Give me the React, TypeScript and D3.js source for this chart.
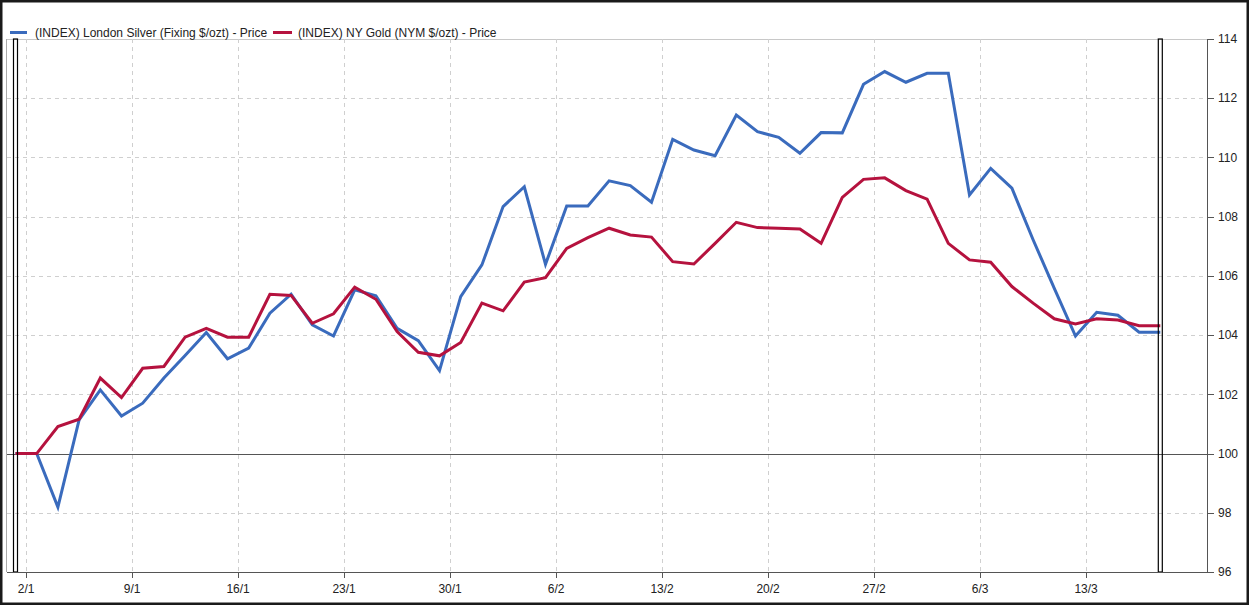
import React from "react";
import * as d3 from "d3";

const dates: string[] = [
  "30/12", "2/1", "3/1", "4/1", "5/1", "6/1", "9/1", "10/1", "11/1", "12/1", "13/1",
  "16/1", "17/1", "18/1", "19/1", "20/1", "23/1", "24/1", "25/1", "26/1", "27/1",
  "30/1", "31/1", "1/2", "2/2", "3/2", "6/2", "7/2", "8/2", "9/2", "10/2",
  "13/2", "14/2", "15/2", "16/2", "17/2", "20/2", "21/2", "22/2", "23/2", "24/2",
  "27/2", "28/2", "1/3", "2/3", "3/3", "6/3", "7/3", "8/3", "9/3", "10/3",
  "13/3", "14/3", "15/3", "16/3",
];

const silver: number[] = [
  100, 100, 98.19, 101.14, 102.15, 101.27, 101.7, 102.55, 103.31, 104.09, 103.2,
  103.56, 104.74, 105.38, 104.35, 103.97, 105.53, 105.33, 104.23, 103.81, 102.8,
  105.3, 106.37, 108.34, 109.01, 106.39, 108.36, 108.36, 109.21, 109.05, 108.49,
  110.61, 110.25, 110.06, 111.43, 110.87, 110.68, 110.14, 110.84, 110.83, 112.47,
  112.9, 112.54, 112.84, 112.84, 108.73, 109.63, 108.96, 107.22, 105.58, 103.97,
  104.77, 104.67, 104.1, 104.1,
];

const gold: number[] = [
  100, 100, 100.91, 101.16, 102.55, 101.89, 102.88, 102.94, 103.93, 104.23, 103.93,
  103.93, 105.38, 105.34, 104.4, 104.72, 105.62, 105.21, 104.12, 103.42, 103.3,
  103.75, 105.08, 104.82, 105.79, 105.94, 106.93, 107.29, 107.61, 107.38, 107.31,
  106.48, 106.4, 107.1, 107.81, 107.63, 107.61, 107.58, 107.1, 108.65, 109.26,
  109.31, 108.88, 108.59, 107.1, 106.54, 106.46, 105.64, 105.08, 104.55, 104.38,
  104.55, 104.51, 104.32, 104.32,
];

const tickLabels: string[] = ["2/1", "9/1", "16/1", "23/1", "30/1", "6/2", "13/2", "20/2", "27/2", "6/3", "13/3"];
const yTicks: number[] = [96, 98, 100, 102, 104, 106, 108, 110, 112, 114];

const seriesNames: string[] = [
  "(INDEX) London Silver (Fixing $/ozt) - Price",
  "(INDEX) NY Gold (NYM $/ozt) - Price",
];
const seriesColors: string[] = ["#3a6bbd", "#b5123e"];

const W = 1249;
const H = 605;
const plotLeft = 7;
const plotRight = 1207;
const plotTop = 39;
const plotBottom = 572;
const font = "Arial, 'Liberation Sans', sans-serif";

export default function App() {
  const x = d3.scaleLinear().domain([0, dates.length - 1]).range([15.5, 1160.3]);
  const y = d3.scaleLinear().domain([96, 114]).range([plotBottom, plotTop]);

  const tickIdx = tickLabels.map((lab) => dates.indexOf(lab) - 0.5);

  const line = d3
    .line<number>()
    .x((_, i) => x(i))
    .y((v) => y(v))
    .curve(d3.curveLinear);

  const series = [silver, gold];

  return (
    <svg
      width={W}
      height={H}
      style={{ position: "absolute", left: 0, top: 0, background: "#fff" }}
    >
      <rect x={0} y={0} width={W} height={H} fill="#fff" />
      {/* horizontal grid */}
      {yTicks.map((t) => (
        <line
          key={"hg" + t}
          x1={plotLeft}
          x2={plotRight}
          y1={Math.round(y(t)) + 0.5}
          y2={Math.round(y(t)) + 0.5}
          stroke={t === 114 ? "#c8c8c8" : "#cfcfcf"}
          strokeDasharray={t === 114 || t === 96 ? undefined : "4,4"}
        />
      ))}
      {/* vertical grid */}
      {tickIdx.map((ti, k) => (
        <line
          key={"vg" + k}
          x1={Math.round(x(ti)) + 0.5}
          x2={Math.round(x(ti)) + 0.5}
          y1={plotTop}
          y2={plotBottom}
          stroke="#cfcfcf"
          strokeDasharray="4,4"
        />
      ))}
      {/* left plot border */}
      <line x1={plotLeft - 0.5} x2={plotLeft - 0.5} y1={plotTop} y2={plotBottom} stroke="#aaa" />
      {/* 100 reference line */}
      <line
        x1={plotLeft}
        x2={plotRight + 7}
        y1={Math.round(y(100)) + 0.5}
        y2={Math.round(y(100)) + 0.5}
        stroke="#555"
        strokeWidth={1}
      />
      {/* lines */}
      {series.map((s, k) => (
        <path
          key={"s" + k}
          d={line(s) || ""}
          fill="none"
          stroke={seriesColors[k]}
          strokeWidth={3}
          strokeLinejoin="miter"
        />
      ))}
      {/* range markers */}
      {[0, dates.length - 1].map((i) => (
        <rect
          key={"rm" + i}
          x={x(i) - 2}
          y={plotTop}
          width={4}
          height={plotBottom - plotTop}
          fill="none"
          stroke="#000"
          strokeWidth={1.2}
        />
      ))}
      {/* x axis */}
      <line x1={plotLeft} x2={plotRight} y1={plotBottom + 0.5} y2={plotBottom + 0.5} stroke="#555" />
      {tickIdx.map((ti, k) => (
        <g key={"xt" + k}>
          <line
            x1={Math.round(x(ti)) + 0.5}
            x2={Math.round(x(ti)) + 0.5}
            y1={plotBottom}
            y2={plotBottom + 6}
            stroke="#555"
          />
          <text
            x={x(ti)}
            y={593}
            textAnchor="middle"
            fontFamily={font}
            fontSize={12}
            fill="#222"
          >
            {tickLabels[k]}
          </text>
        </g>
      ))}
      {/* y axis right */}
      <line x1={plotRight + 0.5} x2={plotRight + 0.5} y1={plotTop} y2={plotBottom} stroke="#555" />
      {yTicks.map((t) => (
        <g key={"yt" + t}>
          <line
            x1={plotRight}
            x2={plotRight + 7}
            y1={Math.round(y(t)) + 0.5}
            y2={Math.round(y(t)) + 0.5}
            stroke="#555"
          />
          <text
            x={plotRight + 11}
            y={y(t)}
            dy="0.35em"
            fontFamily={font}
            fontSize={12}
            fill="#222"
          >
            {t}
          </text>
        </g>
      ))}
      {/* legend */}
      <line x1={10} x2={27} y1={32.5} y2={32.5} stroke={seriesColors[0]} strokeWidth={3} />
      <text x={35} y={37} fontFamily={font} fontSize={12} fill="#222">
        {seriesNames[0]}
      </text>
      <line x1={273} x2={292} y1={32.5} y2={32.5} stroke={seriesColors[1]} strokeWidth={3} />
      <text x={298} y={37} fontFamily={font} fontSize={12} fill="#222">
        {seriesNames[1]}
      </text>
      {/* outer frame */}
      <rect x={1} y={1} width={W - 2} height={H - 2} fill="none" stroke="#1a1a1a" strokeWidth={3} />
    </svg>
  );
}
